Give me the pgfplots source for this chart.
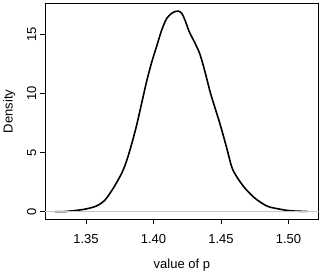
\documentclass[border=0pt]{standalone}
\usepackage{fontspec}
\setmainfont{Liberation Sans}
\usepackage{pgfplots}
\pgfplotsset{compat=1.18}
\begin{document}
\begin{tikzpicture}
\useasboundingbox (-45pt,-54.3pt) rectangle (277pt,219.7pt);
\begin{axis}[
  at={(0pt,0pt)}, anchor=south west,
  scale only axis, width=273.7pt, height=216.7pt,
  xmin=1.3196, xmax=1.5224, ymin=-0.68, ymax=17.63,
  axis line style={line width=0.9pt},
  tick style={line width=0.9pt, black},
  tick align=outside, tick pos=left,
  major tick length=4.5pt,
  xtick={1.35,1.40,1.45,1.50},
  xticklabels={1.35,1.40,1.45,1.50},
  ytick={0,5,10,15},
  yticklabels={0,5,10,15},
  ticklabel style={font=\fontsize{13}{15}\selectfont},
  xticklabel style={anchor=base, yshift=-19pt},
  yticklabel style={xshift=-4.3pt, rotate=90, anchor=base},
  xlabel={value of p}, ylabel={Density},
  label style={font=\fontsize{13}{15}\selectfont},
  xlabel style={at={([yshift=-48.8pt]axis description cs:0.5,0)}, anchor=base},
  ylabel style={at={([xshift=-35.7pt]axis description cs:0,0.5)}, anchor=center},
]
\addplot[black, line width=1.6pt, smooth, tension=0.5] coordinates {
(1.3270,0.00)(1.3344,0.01)(1.3431,0.11)(1.3505,0.24)(1.3579,0.49)
(1.3641,0.99)(1.3702,1.98)(1.3764,3.24)(1.3801,4.30)(1.3839,5.75)
(1.3876,7.35)(1.3913,9.20)(1.3950,11.05)(1.3987,12.64)(1.4024,14.00)
(1.4061,15.35)(1.4098,16.33)(1.4135,16.76)(1.4159,16.91)(1.4184,16.95)
(1.4209,16.76)(1.4233,16.19)(1.4265,15.20)(1.4307,14.25)(1.4344,13.30)
(1.4381,11.84)(1.4419,10.14)(1.4456,8.76)(1.4493,7.40)(1.4542,5.40)
(1.4579,3.80)(1.4616,2.96)(1.4678,1.98)(1.4752,1.13)(1.4839,0.48)
(1.4900,0.29)(1.4994,0.10)(1.5063,0.04)(1.5142,0.02)
};
\addplot[black!22, line width=0.8pt] coordinates {(1.3196,0)(1.5224,0)};
\end{axis}
\end{tikzpicture}
\end{document}
